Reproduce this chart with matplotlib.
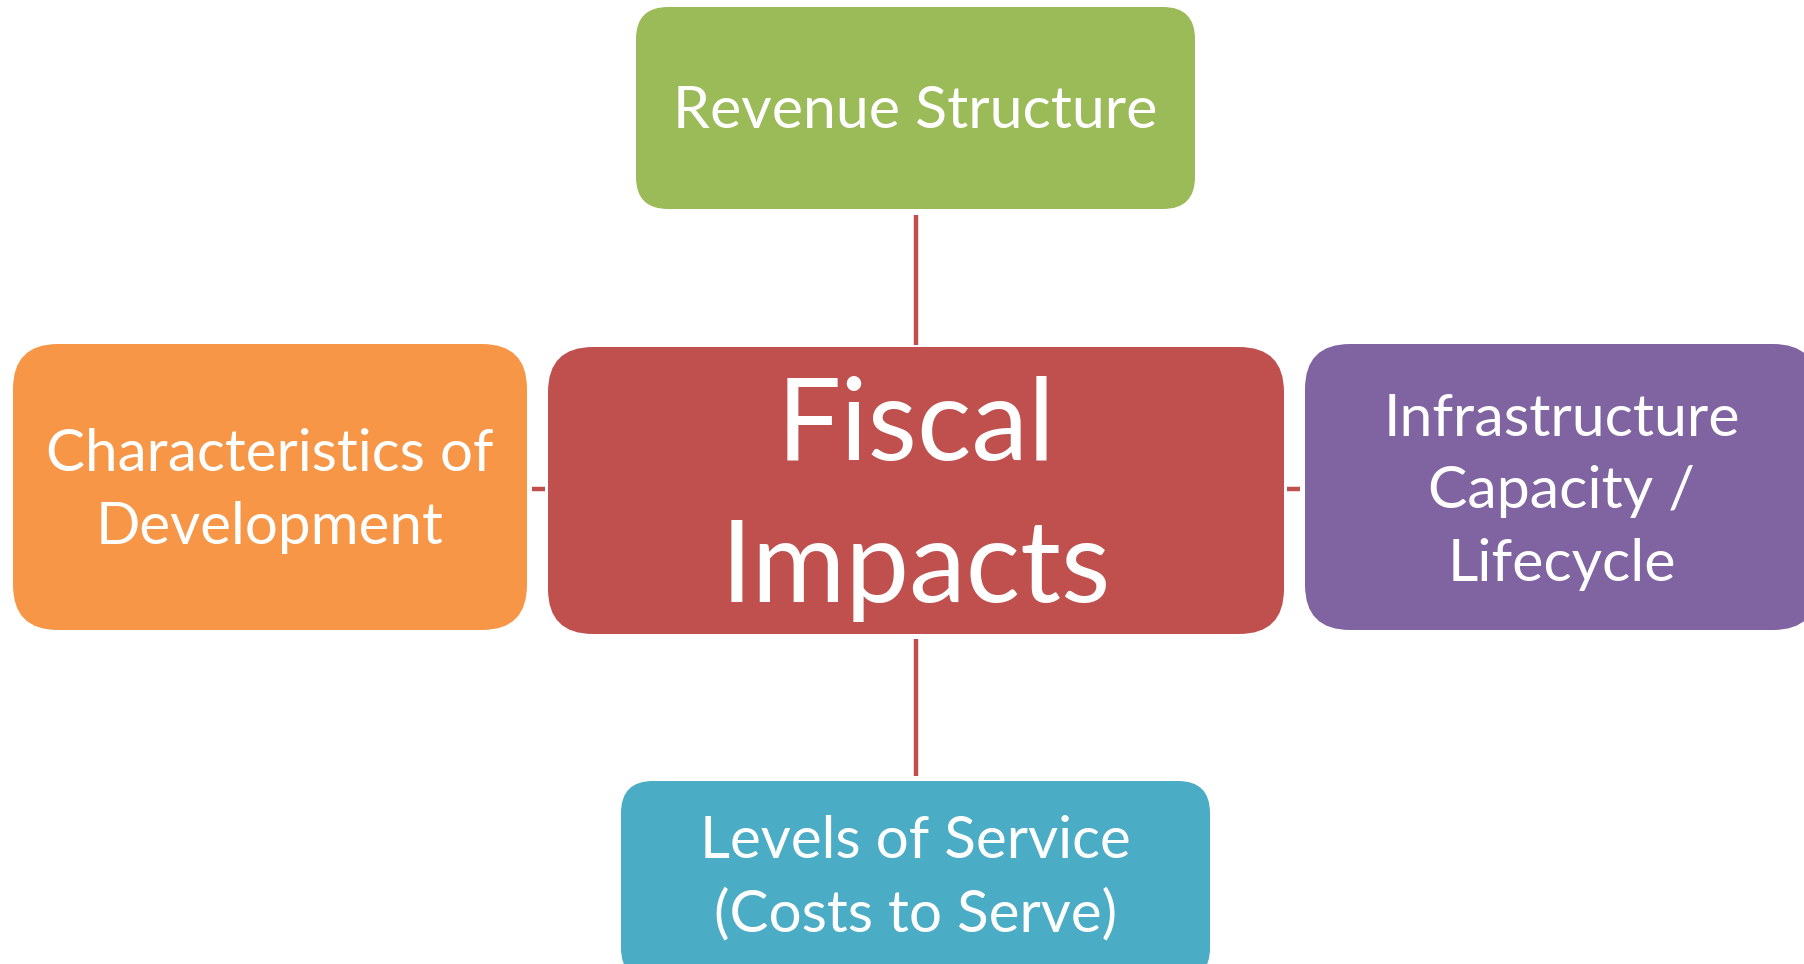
import matplotlib.pyplot as plt
from matplotlib.patches import FancyBboxPatch

# Nós do diagrama
rotulos = [
    "Revenue Structure",
    "Fiscal\nImpacts",
    "Characteristics of\nDevelopment",
    "Infrastructure\nCapacity /\nLifecycle",
    "Levels of Service\n(Costs to Serve)",
]
cores = ["#9BBB59", "#C0504D", "#F79646", "#8064A2", "#4BACC6"]

# Layout em pixels: (x0, y0, x1, y1), raio do canto, tamanho da fonte
caixas = [
    (636, 7, 1195, 209),
    (548, 347, 1284, 634),
    (13, 344, 527, 630),
    (1305, 344, 1818, 630),
    (621, 781, 1210, 980),
]
raios = [32, 45, 45, 45, 32]
fontes = [42.5, 82, 42, 42.5, 42]
espacos = [1.2, 1.45, 1.45, 1.45, 1.45]
centros_y = [111, 499, 491, 492, 878]

# Conectores (x0, y0, x1, y1)
conectores = [
    (916, 215, 916, 345),
    (916, 639, 916, 776),
    (532, 489, 545, 489),
    (1287, 489, 1300, 489),
]
cor_linha = "#C0504D"

plt.rcParams['font.family'] = ['Lato', 'DejaVu Sans']

fig = plt.figure(figsize=(18.04, 9.64), dpi=100)
ax = fig.add_axes([0, 0, 1, 1])
ax.set_xlim(0, 1804)
ax.set_ylim(964, 0)
ax.axis('off')

for x0, y0, x1, y1 in conectores:
    ax.plot([x0, x1], [y0, y1], color=cor_linha, linewidth=3.2,
            solid_capstyle='butt')

for rotulo, cor, (x0, y0, x1, y1), r, fs, ls, cy in zip(
        rotulos, cores, caixas, raios, fontes, espacos, centros_y):
    caixa = FancyBboxPatch(
        (x0, y0), x1 - x0, y1 - y0,
        boxstyle=f"round,pad=0,rounding_size={r}",
        facecolor=cor, edgecolor='none'
    )
    ax.add_patch(caixa)
    ax.text((x0 + x1) / 2, cy, rotulo, color='white', fontsize=fs,
            ha='center', va='center', multialignment='center',
            linespacing=ls)

fig.savefig("out.png", dpi=100)
